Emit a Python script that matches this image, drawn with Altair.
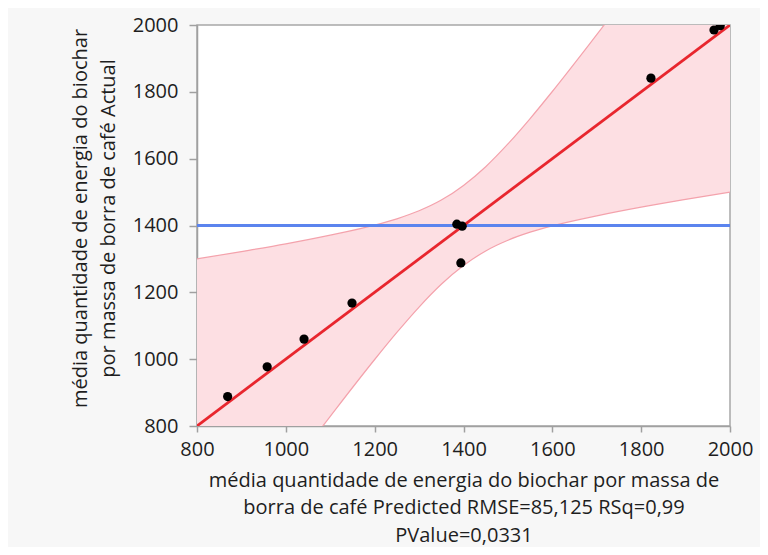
import altair as alt
import pandas as pd

# Observed points (predicted vs actual)
pred_x = [869, 958, 1041, 1149, 1385, 1397, 1394, 1822, 1964, 1978]
actual_y = [888, 977, 1060, 1168, 1404, 1398, 1288, 1841, 1985, 1998]

# Fit line (actual = predicted) end points
fit_x = [800, 2000]
fit_y = [800, 2000]

# Mean of actual
mean_y = [1400]

# Confidence band
band_x = [800, 900, 1000, 1100, 1200, 1250, 1300, 1350, 1400, 1450, 1500, 1550, 1600, 1700, 1800, 1900, 2000]
band_lo = [300, 478, 655, 829, 999, 1080, 1156, 1224, 1280, 1324, 1356, 1380, 1399, 1429, 1455, 1478, 1500]
band_hi = [1300, 1322, 1345, 1371, 1401, 1420, 1444, 1476, 1520, 1576, 1644, 1720, 1801, 1971, 2145, 2322, 2500]

x_ticks = [800, 1000, 1200, 1400, 1600, 1800, 2000]
y_ticks = [800, 1000, 1200, 1400, 1600, 1800, 2000]

x_title = ["média quantidade de energia do biochar por massa de",
           "borra de café Predicted RMSE=85,125 RSq=0,99",
           "PValue=0,0331"]
y_title = ["média quantidade de energia do biochar",
           "por massa de borra de café Actual"]

FONT = "Open Sans"
FS = 20
pts = pd.DataFrame({"x": pred_x, "y": actual_y})
fit = pd.DataFrame({"x": fit_x, "y": fit_y})
band = pd.DataFrame({"x": band_x, "lo": band_lo, "hi": band_hi})
mean = pd.DataFrame({"y": mean_y})

xs = alt.Scale(domain=[800, 2000], nice=False, zero=False)
ys = alt.Scale(domain=[800, 2000], nice=False, zero=False)

x_axis = alt.Axis(values=x_ticks, format="d", title=x_title, grid=False, tickSize=6, labelPadding=7,
                  labelFlush=False, labelOverlap=False,
                  labelFontSize=FS, titleFontSize=FS, titleFontWeight="normal",
                  titleLineHeight=27.5, titleBaseline="middle", titleY=54,
                  labelFont=FONT, titleFont=FONT, labelColor="#1e1e1e", titleColor="#1e1e1e",
                  domainColor="#a0a0a0", tickColor="#a0a0a0", domainWidth=1.5, tickWidth=1.5)
y_axis = alt.Axis(values=y_ticks, format="d", title=y_title, grid=False, tickSize=8, labelPadding=11,
                  labelFlush=False, labelOverlap=False,
                  labelFontSize=FS, titleFontSize=FS, titleFontWeight="normal",
                  titleLineHeight=28, titleBaseline="middle", titleAngle=-90,
                  titleX=-117, titleY=193, titleAlign="center",
                  labelFont=FONT, titleFont=FONT, labelColor="#1e1e1e", titleColor="#1e1e1e",
                  domainColor="#a0a0a0", tickColor="#a0a0a0", domainWidth=1.5, tickWidth=1.5)

area = alt.Chart(band).mark_area(color="#fddfe3", opacity=1, clip=True, interpolate="monotone").encode(
    x=alt.X("x:Q", scale=xs, axis=x_axis),
    y=alt.Y("lo:Q", scale=ys, axis=y_axis),
    y2="hi:Q",
)
lo_line = alt.Chart(band).mark_line(color="#f4a2ac", strokeWidth=1.2, clip=True, interpolate="monotone").encode(
    x=alt.X("x:Q", scale=xs), y=alt.Y("lo:Q", scale=ys))
hi_line = alt.Chart(band).mark_line(color="#f4a2ac", strokeWidth=1.2, clip=True, interpolate="monotone").encode(
    x=alt.X("x:Q", scale=xs), y=alt.Y("hi:Q", scale=ys))
mean_line = alt.Chart(mean).mark_rule(color="#5b84ee", strokeWidth=3).encode(
    y=alt.Y("y:Q", scale=ys))
fit_line = alt.Chart(fit).mark_line(color="#e8262e", strokeWidth=2.8, clip=True).encode(
    x=alt.X("x:Q", scale=xs), y=alt.Y("y:Q", scale=ys))
points = alt.Chart(pts).mark_circle(color="black", size=85, opacity=1, clip=True).encode(
    x=alt.X("x:Q", scale=xs), y=alt.Y("y:Q", scale=ys))

chart = alt.layer(area, lo_line, hi_line, mean_line, fit_line, points).properties(
    width=533, height=401,
    autosize=alt.AutoSizeParams(type="none"),
    padding={"left": 189, "top": 17, "right": 30, "bottom": 121},
    background="#f7f7f7",
).configure_view(fill="white", stroke="#a8a8a8", strokeWidth=1.5)

chart.save("out.html", embed_options={"renderer": "svg", "actions": False})
